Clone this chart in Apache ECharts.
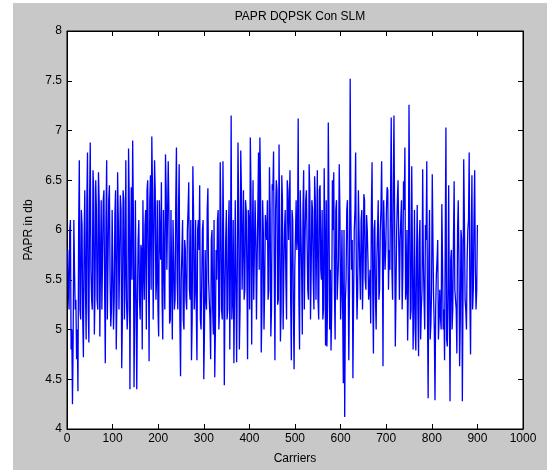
<!DOCTYPE html>
<html>
<head>
<meta charset="utf-8">
<title>PAPR DQPSK Con SLM</title>
<script src="https://cdn.jsdelivr.net/npm/echarts@6/dist/echarts.min.js"></script>
<style>
	html,body{margin:0;padding:0;background:#fff;width:547px;height:470px;overflow:hidden;}
	#papr{position:absolute;left:13px;top:3px;width:534px;height:467px;background:#c8c8c8;}
</style>
</head>
<body>
<div id="papr"></div>
<script>
	// carrier spacing between the points
	var carrierStep = 3;
	// PAPR (db) spikes, carriers 3,6,...,900
	var paprA = [5.4,6.0,4.8,4.25,6.1,5.2,4.7,4.38,6.7,5.1,6.05,4.72,6.4,4.9,6.78,4.87,6.88,5.3,6.6,4.95,
		6.5,5.3,6.58,4.93,6.3,5.2,6.4,4.66,6.7,5.1,6.45,5.03,6.2,5.0,6.15,4.8,6.58,5.2,6.35,4.61,
		6.4,5.1,6.7,5.0,6.82,4.4,6.43];
	var paprB = [6.9,4.42,6.3,4.4,5.9,5.3,5.85,4.8,5.6,6.04,5.0,6.5,4.68,6.55,6.94,5.1,6.7,5.3,6.3,4.93,
		5.9,6.48,4.9,6.2,6.76,5.6,6.69,5.06,6.2,4.9,5.7,5.3,6.83,5.2,6.66,4.53,5.8,5.1,5.9,5.3,
		6.0,6.48,5.3,4.69,6.64,5.2,6.1,4.69,6.1];
	var paprC = [6.45,5.0,6.0,4.5,5.8,5.2,6.42,5.3,4.7,6.0,4.95,4.52,5.8,6.1,5.0,6.68,5.2,6.69,4.44,5.9,
		5.1,6.0,4.8,7.15,5.3,4.66,6.3,4.67,6.88,4.8,6.8,5.4,6.4,5.4,6.2,4.7,6.1,6.93,4.85,6.5,
		5.3,5.9,5.7,6.78,6.93,4.77,6.3,5.0,6.15];
	var paprD = [5.9,5.3,6.63,4.93,6.46,6.79,4.69,6.5,5.25,6.86,4.88,6.55,5.0,6.0,5.5,6.5,5.9,6.6,4.69,6.1,
		4.6,5.6,5.8,7.12,4.8,6.4,4.95,6.6,5.9,6.4,5.4,6.66,5.1,6.3,5.5,6.54,5.3,6.6,5.1,6.45,
		5.5,5.1,6.62,4.84,4.83,7.08,5.0,4.79,6.5];
	var paprE = [6.58,4.9,6.3,5.3,6.66,5.1,6.0,4.46,4.12,5.5,6.3,4.69,7.52,5.6,4.51,6.0,6.78,5.1,6.4,5.6,
		6.1,5.2,6.36,5.5,6.15,5.7,5.4,5.06,6.68,4.76,6.1,5.0,6.0,5.3,6.0,6.69,4.63,6.3,5.8,6.43,
		5.4,5.6,7.13,5.3,7.15,4.83,6.0,6.5,5.3];
	var paprF = [5.9,5.2,6.49,6.83,5.4,4.89,7.26,5.1,6.64,4.8,6.2,4.79,6.25,4.73,6.1,5.2,6.61,5.3,6.05,6.69,
		4.31,6.2,5.05,6.56,5.3,4.29,5.55,5.9,5.1,5.13,6.26,5.0,4.69,7.03,4.83,6.45,4.28,5.8,5.2,6.49,
		5.3,4.76,6.3,4.63,6.0,4.28,6.71,5.3,5.0,6.0,6.78,4.75,6.55,5.4,6.6,5.2,6.05];

	// values in the dense core of the band, carriers 1.5,4.5,...,898.5
	var coreA = [5.8,5.2,6.1,5.0,4.9,5.6,5.3,5.0,6.0,5.2,6.2,5.1,5.9,5.4,6.3,5.2,6.3,5.6,5.2,6.4,
		5.4,6.2,5.2,6.3,5.7,5.2,6.3,5.4,6.1,5.1,6.3,5.5,5.2,6.2,5.3,6.4,5.3,6.1,5.2,6.2,
		5.1,6.3,5.6,5.3,5.2,6.3,5.8];
	var coreB = [5.5,6.2,5.2,6.3,5.3,6.1,5.1,5.8,6.3,5.3,6.2,6.4,5.7,6.3,5.4,6.4,5.9,6.4,5.5,5.2,
		6.3,5.7,5.3,6.2,5.2,6.4,5.6,6.2,5.1,5.5,6.1,5.2,6.3,5.5,6.2,5.1,5.5,6.1,5.0,5.8,
		5.2,6.2,5.4,6.1,5.1,6.2,5.4,5.2,6.0];
	var coreC = [5.8,5.1,5.5,6.1,5.0,5.3,6.2,5.5,5.1,5.9,5.2,6.1,5.0,5.5,6.2,5.2,6.1,5.1,5.9,5.4,
		6.2,5.2,6.3,5.7,5.1,6.1,5.4,6.3,5.6,6.2,5.2,6.4,5.9,5.3,6.3,5.6,6.2,5.2,6.4,5.9,
		5.3,6.3,5.1,6.2,5.6,6.4,5.2,6.0,5.4];
	var coreD = [6.0,6.3,5.4,6.2,5.2,6.4,5.6,6.2,6.4,5.3,6.0,5.2,6.3,5.6,6.2,5.1,6.4,5.9,5.3,6.2,
		5.2,5.6,6.3,5.9,5.3,6.4,5.6,6.2,5.2,6.3,5.9,5.3,6.4,5.6,6.2,5.2,6.3,5.9,5.3,6.4,
		5.6,6.2,5.2,5.9,6.3,5.3,6.2,5.6,5.2];
	var coreE = [6.0,5.4,6.2,5.3,5.7,6.2,5.4,5.2,6.0,5.3,6.2,5.6,5.4,6.2,5.9,5.3,6.2,5.6,5.4,6.0,
		5.3,6.2,5.6,6.3,5.4,6.0,5.3,5.6,6.2,5.4,6.0,5.3,5.7,6.3,5.4,6.2,5.9,6.3,5.6,6.2,
		6.4,5.8,6.3,5.6,6.4,6.1,5.4,6.3,5.9];
	var coreF = [5.9,6.3,5.6,6.2,5.3,6.0,5.4,6.2,5.2,5.8,5.3,5.0,5.7,5.2,5.9,4.9,5.4,5.7,5.0,5.9,
		5.2,5.7,4.9,5.4,5.9,5.0,5.2,5.7,4.9,5.4,5.0,5.7,5.2,5.9,4.9,5.4,5.2,5.7,5.0,5.9,
		5.4,5.2,6.0,5.7,5.1,5.9,5.4,6.1,5.2,5.7,6.1,5.3,5.9,5.2,6.1,5.6,5.4];

	var papr = paprA.concat(paprB, paprC, paprD, paprE, paprF);
	var core = coreA.concat(coreB, coreC, coreD, coreE, coreF);
	var lineData = [];
	for(var i = 0; i < papr.length; i++){
		var c = (i + 1) * carrierStep;
		lineData.push([c - carrierStep / 2, core[i]]);
		lineData.push([c, papr[i]]);
	}

	var fontFamily = '"Liberation Sans", Arial, sans-serif';
	function axisLine(){ return {show:true, onZero:false, lineStyle:{color:'#000', width:1}}; }
	function tick(){ return {show:true, inside:true, length:5, lineStyle:{color:'#000', width:1}}; }

	var myChart = echarts.init(document.getElementById('papr'));
	var option = {
		animation:false,
		title:{
			text:'PAPR DQPSK Con SLM',
			left:282,
			top:3,
			textAlign:'center',
			textStyle:{fontFamily:fontFamily, fontSize:12, fontWeight:'normal', color:'#000'}
		},
		grid:{
			left:54, top:28, width:456, height:400,
			show:true, backgroundColor:'#fff', borderColor:'#000', borderWidth:1
		},
		xAxis:[{
			type:'value', position:'bottom', min:0, max:1000, interval:100,
			name:'Carriers', nameLocation:'middle', nameGap:24,
			nameTextStyle:{fontFamily:fontFamily, fontSize:12, color:'#000'},
			axisLine:axisLine(), axisTick:tick(),
			axisLabel:{fontFamily:fontFamily, fontSize:12, color:'#000', margin:4,
				formatter:function(v){ return String(v); }},
			splitLine:{show:false}
		},{
			type:'value', show:true, position:'top', min:0, max:1000, interval:100,
			axisLine:axisLine(), axisTick:tick(), axisLabel:{show:false}, splitLine:{show:false}
		}],
		yAxis:[{
			type:'value', position:'left', min:4, max:8, interval:0.5,
			name:'PAPR in db', nameLocation:'middle', nameGap:29,
			nameTextStyle:{fontFamily:fontFamily, fontSize:12, color:'#000'},
			axisLine:axisLine(), axisTick:tick(),
			axisLabel:{fontFamily:fontFamily, fontSize:12, color:'#000', margin:5},
			splitLine:{show:false}
		},{
			type:'value', show:true, position:'right', min:4, max:8, interval:0.5,
			axisLine:axisLine(), axisTick:tick(), axisLabel:{show:false}, splitLine:{show:false}
		}],
		series:[{
			type:'line',
			data:lineData,
			showSymbol:false,
			lineStyle:{color:'#0000ff', width:1.3},
			itemStyle:{color:'#0000ff'}
		}]
	};
	myChart.setOption(option);
</script>
</body>
</html>
